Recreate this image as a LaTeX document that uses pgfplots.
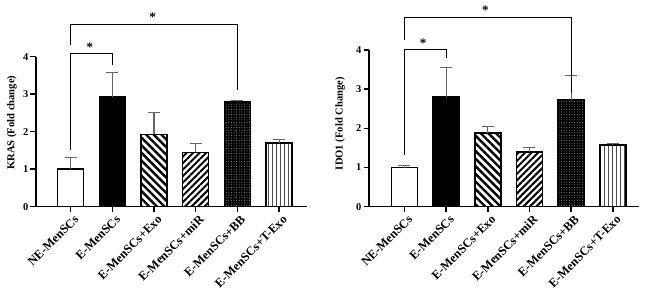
\documentclass[border=0pt]{standalone}
\usepackage{pgfplots}
\pgfplotsset{compat=1.18}
\usepackage{fontspec}
\setmainfont{Liberation Serif}
\usetikzlibrary{patterns.meta}

\tikzset{
  exo/.style={pattern={Lines[angle=-45,distance=5.4bp,line width=2.4bp]}},
  mir/.style={pattern={Lines[angle=45,distance=4.6bp,line width=2bp]}},
  bb/.style={fill=black, postaction={pattern={Dots[distance=2.6bp,radius=0.5bp]}, pattern color=black!40}},
  texo/.style={pattern={Lines[angle=90,distance=4bp,line width=0.6bp]}, pattern color=black!70},
  star/.style={font=\bfseries\fontsize{13}{13}\selectfont},
  bracket/.style={line width=1bp, black},
}

\pgfplotsset{
  barpanel/.style={
    scale only axis,
    anchor=south west,
    clip=false,
    axis x line*=bottom,
    axis y line*=left,
    axis line style={line width=1.5bp,-},
    ymin=0, ymax=4,
    ytick={0,1,2,3,4},
    xtick={0,1,2,3,4,5},
    xticklabels={NE-MenSCs,E-MenSCs,E-MenSCs+Exo,E-MenSCs+miR,E-MenSCs+BB,E-MenSCs+T-Exo},
    tick align=outside,
    major tick length=5.5bp,
    every tick/.style={line width=1.5bp,black},
    /pgf/number format/assume math mode=true,
    yticklabel style={font=\bfseries\fontsize{10.5}{12}\selectfont, inner sep=2bp},
    xticklabel style={font=\bfseries\fontsize{12.4}{14}\selectfont, rotate=45, anchor=north east, inner sep=1.5bp, xshift=2bp, yshift=-2bp},
    label style={font=\bfseries\fontsize{10.6}{12}\selectfont},
    every axis plot/.append style={
      ybar, bar width=26bp, bar shift=0pt, draw=black, line width=1.5bp,
      error bars/y dir=plus, error bars/y explicit,
      error bars/error bar style={line width=1.1bp, black!60},
      error bars/error mark options={rotate=90, mark size=6bp, line width=1.1bp, black!60},
    },
  },
}

\begin{document}
\begin{tikzpicture}
\useasboundingbox (0,0) rectangle (648bp,294bp);

% KRAS panel
\begin{axis}[barpanel,
  at={(36bp,87.3bp)}, width=271bp, height=150bp,
  xmin=-0.83, xmax=5.67,
  ylabel={KRAS (Fold change)},
  ylabel style={at={(axis description cs:-0.089,0.56)}, anchor=center},
]
\addplot[fill=white] coordinates {(0,1.00) +- (0,0.30)};
\addplot[fill=black] coordinates {(1,2.92) +- (0,0.66)};
\addplot[exo] coordinates {(2,1.93) +- (0,0.59)};
\addplot[mir] coordinates {(3,1.45) +- (0,0.23)};
\addplot[bb] coordinates {(4,2.80) +- (0,0.03)};
\addplot[texo] coordinates {(5,1.70) +- (0,0.09)};
\draw[bracket] (axis cs:0,1.51) -- (axis cs:0,4.09) -- (axis cs:1,4.09) -- (axis cs:1,3.78);
\draw[bracket] (axis cs:0,4.31) -- (axis cs:0,4.87) -- (axis cs:4,4.87) -- (axis cs:4,3.11);
\node[star] at (axis cs:0.46,4.25) {*};
\node[star] at (axis cs:1.97,5.05) {*};
\end{axis}

% IDO1 panel
\begin{axis}[barpanel,
  at={(369bp,87.3bp)}, width=270bp, height=156.7bp,
  xmin=-0.85, xmax=5.63,
  ylabel={IDO1 (Fold Change)},
  ylabel style={at={(axis description cs:-0.107,0.53)}, anchor=center},
]
\addplot[fill=white] coordinates {(0,1.00) +- (0,0.05)};
\addplot[fill=black] coordinates {(1,2.80) +- (0,0.75)};
\addplot[exo] coordinates {(2,1.88) +- (0,0.17)};
\addplot[mir] coordinates {(3,1.40) +- (0,0.10)};
\addplot[bb] coordinates {(4,2.73) +- (0,0.62)};
\addplot[texo] coordinates {(5,1.57) +- (0,0.05)};
\draw[bracket] (axis cs:0,1.32) -- (axis cs:0,4.00) -- (axis cs:1,4.00) -- (axis cs:1,3.79);
\draw[bracket] (axis cs:0,4.25) -- (axis cs:0,4.83) -- (axis cs:4,4.83) -- (axis cs:4,2.89);
\node[star] at (axis cs:0.45,4.17) {*};
\node[star] at (axis cs:1.94,5.02) {*};
\end{axis}
\end{tikzpicture}
\end{document}
